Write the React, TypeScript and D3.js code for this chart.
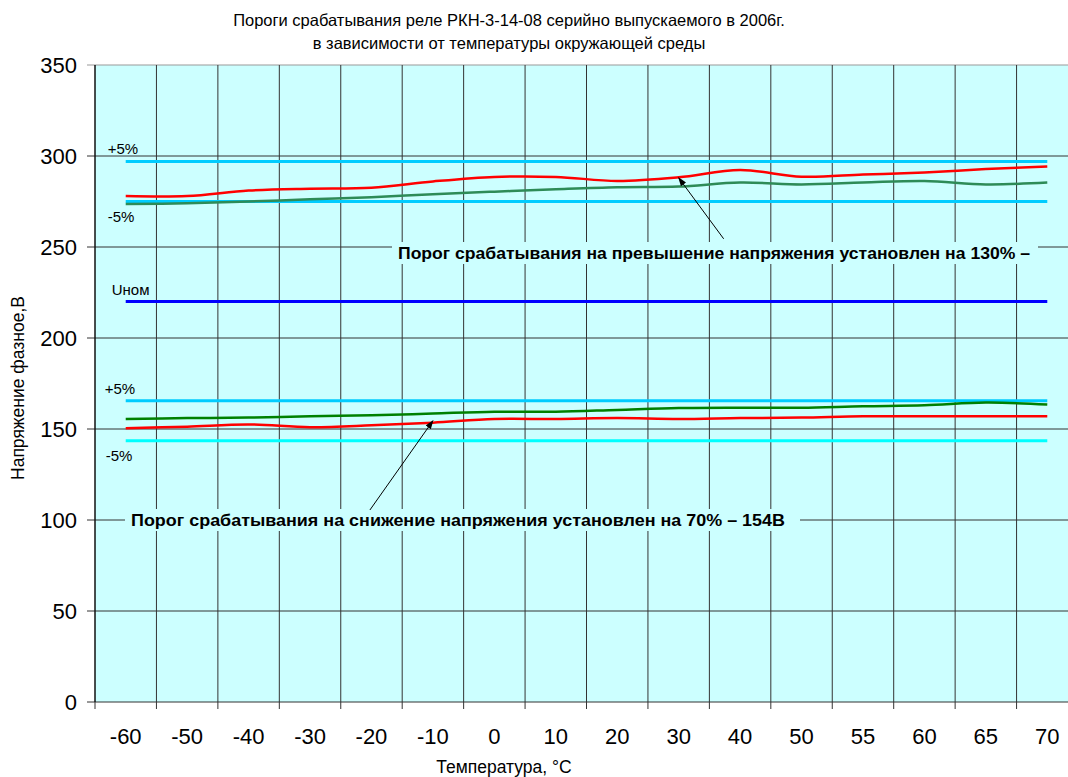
import React from "react";
import * as d3 from "d3";

const categories = ["-60", "-50", "-40", "-30", "-20", "-10", "0", "10", "20", "30", "40", "50", "55", "60", "65", "70"];
const redHigh = [278, 278, 281, 282, 282.5, 286, 288.5, 288.5, 286.3, 288.3, 292.3, 288.6, 289.8, 291, 292.8, 294.2];
const greenHigh = [273.6, 274, 275, 276.2, 277.3, 279, 280.4, 281.7, 282.8, 283.2, 285.4, 284.4, 285.4, 286.3, 284.4, 285.4];
const redLow = [150.4, 151.3, 152.5, 151, 152, 153.5, 155.5, 155.5, 156, 155.5, 156, 156.3, 157, 157, 157, 157];
const greenLow = [155.5, 156, 156.3, 157, 157.5, 158.5, 159.5, 159.5, 160.5, 161.5, 161.7, 161.7, 162.5, 163, 164.5, 163.5];
const yTicks = [0, 50, 100, 150, 200, 250, 300, 350];
const refLines = [
  { value: 297, label: "+5%", color: "#00CCFF", labelDx: -18, labelDy: -7 },
  { value: 275, label: "-5%", color: "#00CCFF", labelDx: -18, labelDy: 20 },
  { value: 220, label: "Uном", color: "#0000FF", labelDx: -14, labelDy: -7 },
  { value: 165.5, label: "+5%", color: "#00CCFF", labelDx: -21, labelDy: -7 },
  { value: 143.6, label: "-5%", color: "#00FFFF", labelDx: -20, labelDy: 20 },
];
const titleLines = [
  "Пороги срабатывания реле РКН-3-14-08 серийно выпускаемого в 2006г.",
  "в зависимости от  температуры окружающей среды",
];
const noteHigh = "Порог срабатывания на превышение напряжения установлен на 130% –";
const noteLow = "Порог срабатывания на снижение напряжения установлен на 70% – 154В";

const W = 1068, H = 777;
const L = 95, R = 1078, T = 65, B = 702;

export default function App() {
  const x = d3.scaleBand<string>().domain(categories).range([L, R]).padding(0);
  const bw = x.bandwidth();
  const cx = (c: string) => (x(c) as number) + bw / 2;
  const y = d3.scaleLinear().domain([0, 350]).range([B, T]);
  const line = d3
    .line<number>()
    .x((_, i) => cx(categories[i]))
    .y((d) => y(d))
    .curve(d3.curveCatmullRom.alpha(0.5));
  const x0 = cx(categories[0]);
  const x1 = cx(categories[categories.length - 1]);
  const font = "Arial, 'Liberation Sans', sans-serif";

  const boundaries = categories.map((c) => x(c) as number).concat([R]);

  const highTip = { x: cx("30"), y: y(288) };
  const highFrom = { x: cx("30") + 45, y: y(254.5) };
  const lowTip = { x: cx("-10"), y: y(154.5) };
  const lowFrom = { x: cx("-10") - 63, y: y(105.5) };

  return (
    <svg width={W} height={H} style={{ position: "absolute", left: 0, top: 0, background: "#fff" }} fontFamily={font}>
      <defs>
        <marker id="arr" viewBox="0 0 10 10" refX="9" refY="5" markerWidth="9" markerHeight="9" orient="auto">
          <path d="M0,1.5 L10,5 L0,8.5 z" fill="#000" />
        </marker>
      </defs>
      {titleLines.map((t, i) => (
        <text key={i} x={509} y={26 + i * 23} textAnchor="middle" fontSize={16.5} fill="#000">
          {t}
        </text>
      ))}
      <rect x={L} y={T} width={R - L} height={B - T} fill="#CCFFFF" />
      {yTicks.map((v) => (
        <line key={"h" + v} x1={L - 8} x2={R} y1={y(v)} y2={y(v)} stroke={v === 350 ? "#999" : "#333"} strokeWidth={1} />
      ))}
      {boundaries.map((bx, i) => (
        <line key={"v" + i} x1={bx} x2={bx} y1={T} y2={B + 7} stroke="#333" strokeWidth={1} />
      ))}
      <line x1={L} x2={L} y1={T} y2={B} stroke="#000" strokeWidth={1} />
      {yTicks.map((v) => (
        <text key={"yt" + v} x={77} y={y(v) + 8} textAnchor="end" fontSize={22} fill="#000">
          {v}
        </text>
      ))}
      {categories.map((c) => (
        <text key={"xt" + c} x={cx(c)} y={744} textAnchor="middle" fontSize={22} fill="#000">
          {c}
        </text>
      ))}
      <text x={504} y={773} textAnchor="middle" fontSize={17.5} fill="#000">
        Температура, °С
      </text>
      <text transform={`translate(24, ${388}) rotate(-90)`} textAnchor="middle" fontSize={17.5} fill="#000">
        Напряжение фазное,В
      </text>
      {refLines.map((r, i) => (
        <g key={"r" + i}>
          <line x1={x0} x2={x1} y1={y(r.value)} y2={y(r.value)} stroke={r.color} strokeWidth={3} />
          <text x={x0 + r.labelDx} y={y(r.value) + r.labelDy} fontSize={15} fill="#000">
            {r.label}
          </text>
        </g>
      ))}
      <path d={line(greenHigh) || ""} fill="none" stroke="#2E8B57" strokeWidth={2.5} />
      <path d={line(redHigh) || ""} fill="none" stroke="#FF0000" strokeWidth={2.5} />
      <path d={line(greenLow) || ""} fill="none" stroke="#008000" strokeWidth={2.5} />
      <path d={line(redLow) || ""} fill="none" stroke="#FF0000" strokeWidth={2.5} />
      <rect x={392} y={242} width={646} height={22} fill="#CCFFFF" />
      <text x={398} y={259} fontSize={16.5} fontWeight="bold" fill="#000" textLength={632} lengthAdjust="spacingAndGlyphs">
        {noteHigh}
      </text>
      <line x1={highFrom.x} y1={highFrom.y} x2={highTip.x} y2={highTip.y} stroke="#000" strokeWidth={1} markerEnd="url(#arr)" />
      <rect x={125} y={509} width={675} height={22} fill="#CCFFFF" />
      <text x={131} y={526} fontSize={16.5} fontWeight="bold" fill="#000" textLength={654} lengthAdjust="spacingAndGlyphs">
        {noteLow}
      </text>
      <line x1={lowFrom.x} y1={lowFrom.y} x2={lowTip.x} y2={lowTip.y} stroke="#000" strokeWidth={1} markerEnd="url(#arr)" />
    </svg>
  );
}
